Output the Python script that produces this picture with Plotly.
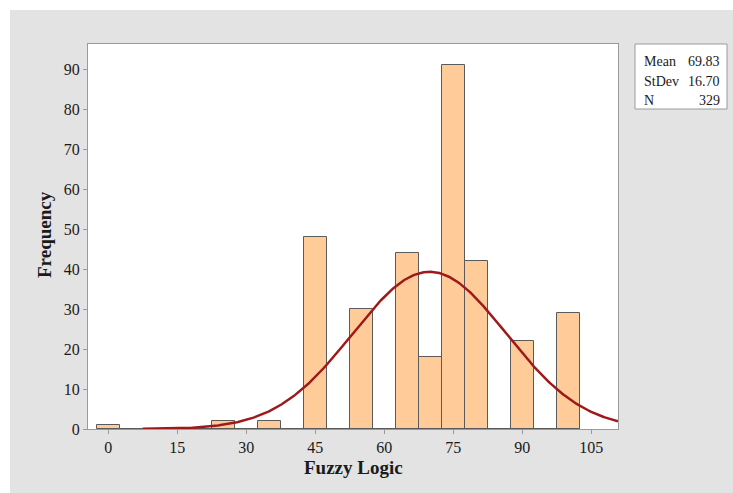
import numpy as np
import plotly.graph_objects as go

# Data
bin_centers = [0, 5, 10, 15, 20, 25, 30, 35, 40, 45, 50, 55, 60, 65, 70, 75, 80, 85, 90, 95, 100]
counts = [1, 0, 0, 0, 0, 2, 0, 2, 0, 48, 0, 30, 0, 44, 18, 91, 42, 0, 22, 0, 29]
bin_width = 5
x_ticks = [0, 15, 30, 45, 60, 75, 90, 105]
y_ticks = [0, 10, 20, 30, 40, 50, 60, 70, 80, 90]
stat_labels = ["Mean", "StDev", "N"]
stat_values = ["69.83", "16.70", "329"]
mean, sd, n = 69.83, 16.70, 329

# Fitted normal curve (from the stats shown in the chart)
xc = np.linspace(7.5, 110.8, 400)
yc = n * bin_width / (sd * np.sqrt(2 * np.pi)) * np.exp(-0.5 * ((xc - mean) / sd) ** 2)

L, R, T, B = 88, 618, 44, 429
W, H = 733, 493
pw, ph = R - L, B - T

def px(x):
    return (x - L) / pw

def py(y):
    return (B - y) / ph

fig = go.Figure()
# histogram baseline (empty bins drawn as flat lines)
fig.add_trace(go.Scatter(
    x=[bin_centers[0] - bin_width / 2, bin_centers[-1] + bin_width / 2], y=[0, 0],
    mode="lines", line=dict(color="#5a5a5a", width=1.5), cliponaxis=False,
    showlegend=False, hoverinfo="skip",
))
fig.add_trace(go.Bar(
    x=bin_centers, y=counts, width=bin_width,
    marker=dict(color="#FFCC99", line=dict(color="#5a5a5a", width=1)),
    hoverinfo="x+y", showlegend=False,
))
fig.add_trace(go.Scatter(
    x=xc, y=yc, mode="lines", line=dict(color="#9E1A1A", width=2.5),
    showlegend=False, hoverinfo="skip",
))

gray = "#e3e3e3"
fig.update_layout(
    width=W, height=H,
    margin=dict(l=L, r=W - R, t=T, b=H - B),
    paper_bgcolor=gray, plot_bgcolor="white",
    font=dict(family="Liberation Serif", size=16, color="#1a1a1a"),
    bargap=0,
    xaxis=dict(range=[-4.4, 110.8], tickvals=x_ticks, ticks="outside", ticklen=4,
               tickcolor="#9a9a9a", showline=True, linecolor="#9a9a9a", mirror=True,
               showgrid=False, zeroline=False, tickfont=dict(size=16)),
    yaxis=dict(range=[0, 96.25], tickvals=y_ticks, ticks="outside", ticklen=4,
               tickcolor="#9a9a9a", showline=True, linecolor="#9a9a9a", mirror=True,
               showgrid=False, zeroline=False, tickfont=dict(size=16)),
    shapes=[
        # white outer strips (top and left)
        dict(type="rect", xref="paper", yref="paper", x0=px(0), x1=px(10), y0=py(W), y1=py(0),
             fillcolor="white", line=dict(width=0), layer="below"),
        dict(type="rect", xref="paper", yref="paper", x0=px(0), x1=px(W + 5), y0=py(10), y1=py(0),
             fillcolor="white", line=dict(width=0), layer="below"),
        # stats box
        dict(type="rect", xref="paper", yref="paper", x0=px(635), x1=px(727), y0=py(109), y1=py(44),
             fillcolor="white", line=dict(color="#9a9a9a", width=1)),
    ],
)

rows_y = [61, 81, 100]
for lab, val, yy in zip(stat_labels, stat_values, rows_y):
    fig.add_annotation(x=px(642), y=py(yy), xref="paper", yref="paper", text=lab,
                       showarrow=False, xanchor="left", yanchor="middle",
                       font=dict(size=14, family="Liberation Serif", color="#1a1a1a"))
    fig.add_annotation(x=px(722), y=py(yy), xref="paper", yref="paper", text=val,
                       showarrow=False, xanchor="right", yanchor="middle",
                       font=dict(size=14, family="Liberation Serif", color="#1a1a1a"))

fig.add_annotation(x=px(353), y=py(467), xref="paper", yref="paper", text="<b>Fuzzy Logic</b>",
                   showarrow=False, xanchor="center", yanchor="middle",
                   font=dict(size=19, family="Liberation Serif", color="#1a1a1a"))
fig.add_annotation(x=px(44), y=py(235), xref="paper", yref="paper", text="<b>Frequency</b>",
                   showarrow=False, xanchor="center", yanchor="middle", textangle=-90,
                   font=dict(size=19, family="Liberation Serif", color="#1a1a1a"))

fig.write_html("out.html")
